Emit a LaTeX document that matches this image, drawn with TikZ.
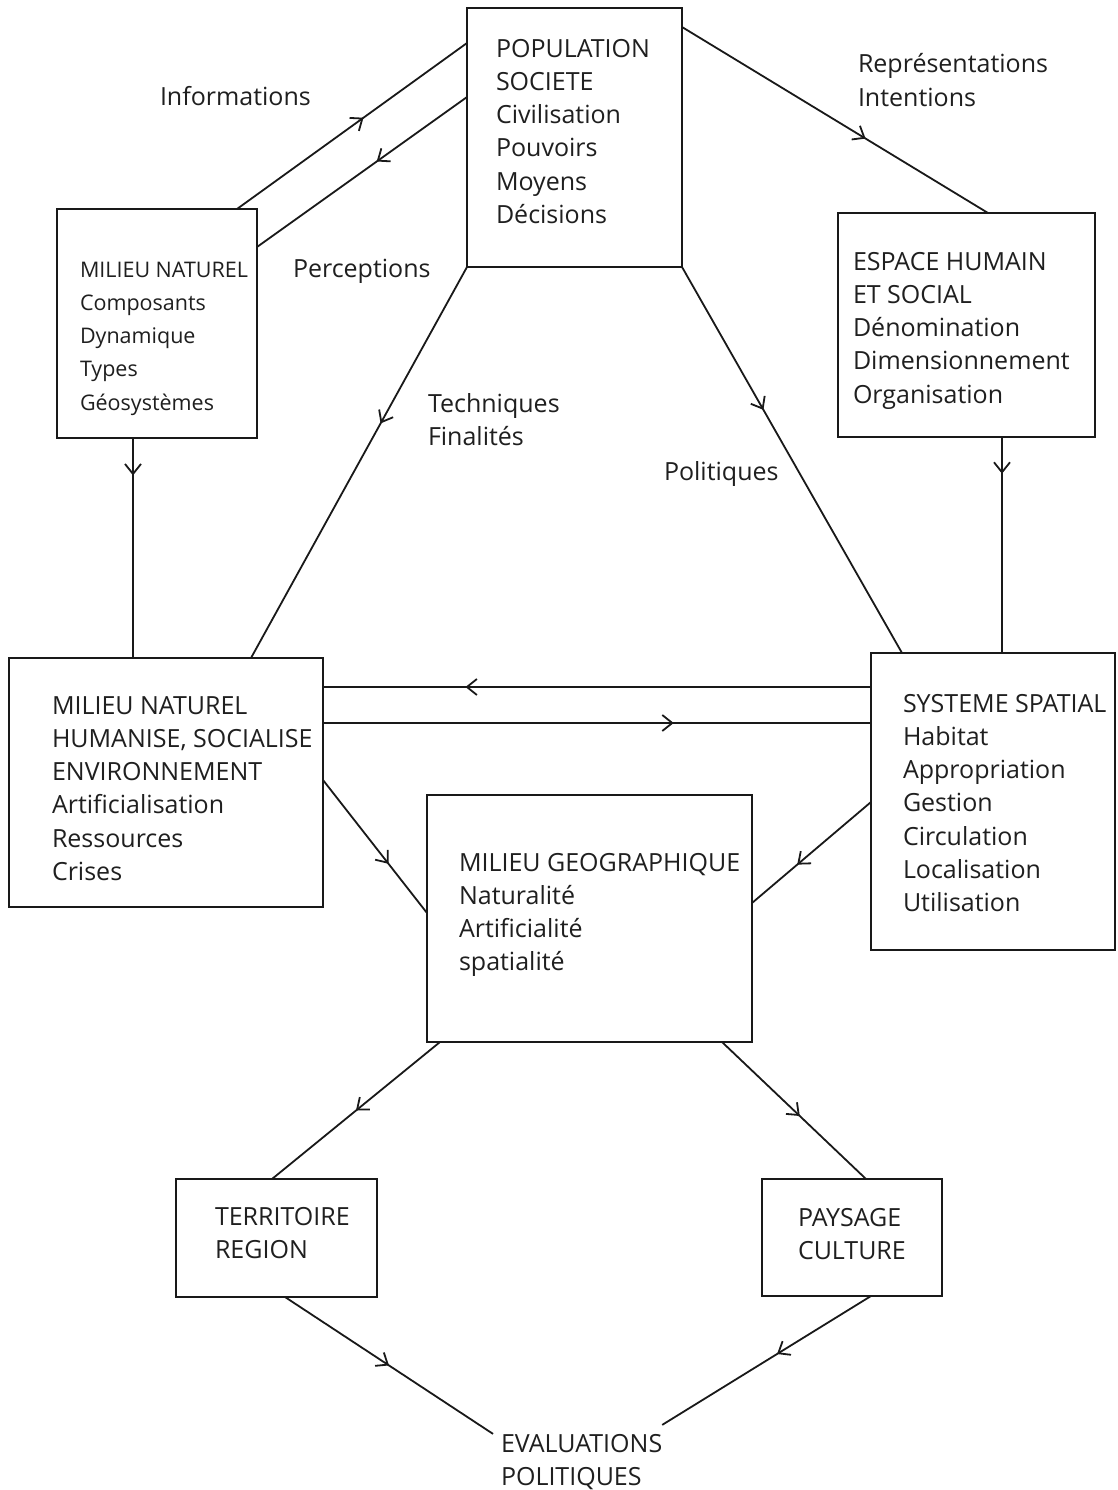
\documentclass[tikz,border=0pt]{standalone}
\usepackage{fontspec}
\setmainfont{Open Sans}
\usetikzlibrary{arrows.meta,decorations.markings}

\begin{document}
\begin{tikzpicture}[x=1pt,y=-1pt,
  box/.style={draw=black!90, line width=2.6pt, inner sep=0pt, outer sep=0pt, anchor=north west},
  % multi-line labels are placed by the baseline of their last line
  lbl/.style={anchor=base west, align=left, inner sep=0pt, outer sep=0pt, text=black!88,
              font=\fontsize{25pt}{33.3pt}\selectfont},
  small lbl/.style={lbl, font=\fontsize{21.5pt}{33.3pt}\selectfont},
  link/.style={draw=black!90, line width=1.8pt},
  flow/.style={link, postaction={decorate},
    decoration={markings, mark=at position #1 with
      {\arrow{Straight Barb[length=10pt,width=16pt,line width=1.8pt]}}}},
]
\fill[white] (0,0) rectangle (1117,1490);
\useasboundingbox (0,0) rectangle (1117,1490);

% boxes
\node[box, minimum width=215pt, minimum height=259pt] (pop)    at (467,8)    {};
\node[box, minimum width=200pt, minimum height=229pt] (mn)     at (57,209)   {};
\node[box, minimum width=257pt, minimum height=224pt] (espace) at (838,213)  {};
\node[box, minimum width=314pt, minimum height=249pt] (mnh)    at (9,658)    {};
\node[box, minimum width=244pt, minimum height=297pt] (sys)    at (871,653)  {};
\node[box, minimum width=325pt, minimum height=247pt] (mg)     at (427,795)  {};
\node[box, minimum width=201pt, minimum height=118pt] (terr)   at (176,1179) {};
\node[box, minimum width=180pt, minimum height=117pt] (pay)    at (762,1179) {};

% box contents
\node[lbl] (popt) at (496,223.5) {POPULATION\\SOCIETE\\Civilisation\\Pouvoirs\\Moyens\\Décisions};
\node[small lbl] (mnt) at (80,410.2) {MILIEU NATUREL\\Composants\\Dynamique\\Types\\Géosystèmes};
\node[lbl] (espacet) at (853,403.2) {ESPACE HUMAIN\\ET SOCIAL\\Dénomination\\Dimensionnement\\Organisation};
\node[lbl] (mnht) at (52,880.5) {MILIEU NATUREL\\HUMANISE, SOCIALISE\\ENVIRONNEMENT\\Artificialisation\\Ressources\\Crises};
\node[lbl] (syst) at (903,911.8) {SYSTEME SPATIAL\\Habitat\\Appropriation\\Gestion\\Circulation\\Localisation\\Utilisation};
\node[lbl] (mgt) at (459,970.9) {MILIEU GEOGRAPHIQUE\\Naturalité\\Artificialité\\spatialité};
\node[lbl] (terrt) at (215,1258.3) {TERRITOIRE\\REGION};
\node[lbl] (payt) at (798,1259.3) {PAYSAGE\\CULTURE};
\node[lbl] (eval) at (501,1485.3) {EVALUATIONS\\POLITIQUES};

% connector labels
\node[lbl] (linfo) at (160,106) {Informations};
\node[lbl] (lperc) at (293,277) {Perceptions};
\node[lbl] (lrepr) at (858,106.3) {Représentations\\Intentions};
\node[lbl] (ltech) at (428,445.3) {Techniques\\Finalités};
\node[lbl] (lpol) at (664,480) {Politiques};

% connectors
\draw[flow=0.55] ([xshift=-20pt]mn.north east) -- ([yshift=-35pt]pop.north west);
\draw[flow=0.43] ([yshift=-89pt]pop.north west) -- ([yshift=-38pt]mn.north east);
\draw[flow=0.6]  ([yshift=-19pt]pop.north east) -- ([xshift=150pt]espace.north west);
\draw[flow=0.4]  (pop.south west) -- ([xshift=242pt]mnh.north west);
\draw[flow=0.37] (pop.south east) -- ([xshift=31pt]sys.north west);
\draw[flow=0.17] ([xshift=76pt]mn.south west) -- ([xshift=124pt]mnh.north west);
\draw[flow=0.17] ([xshift=164pt]espace.south west) -- ([xshift=131pt]sys.north west);
\draw[flow=0.74] ([yshift=-34pt]sys.north west) -- ([yshift=-29pt]mnh.north east);
\draw[flow=0.64] ([yshift=-65pt]mnh.north east) -- ([yshift=-70pt]sys.north west);
\draw[flow=0.63] ([yshift=-122pt]mnh.north east) -- ([yshift=-118pt]mg.north west);
\draw[flow=0.62] ([yshift=-149pt]sys.north west) -- ([yshift=-108pt]mg.north east);
\draw[flow=0.5]  ([xshift=13pt]mg.south west) -- ([xshift=96pt]terr.north west);
\draw[flow=0.54] ([xshift=-30pt]mg.south east) -- ([xshift=104pt]pay.north west);
\draw[flow=0.5]  ([xshift=109pt]terr.south west) -- ([xshift=-8pt]eval.north west);
\draw[flow=0.45] ([xshift=109pt]pay.south west) -- ([yshift=9pt]eval.north east);
\end{tikzpicture}
\end{document}
